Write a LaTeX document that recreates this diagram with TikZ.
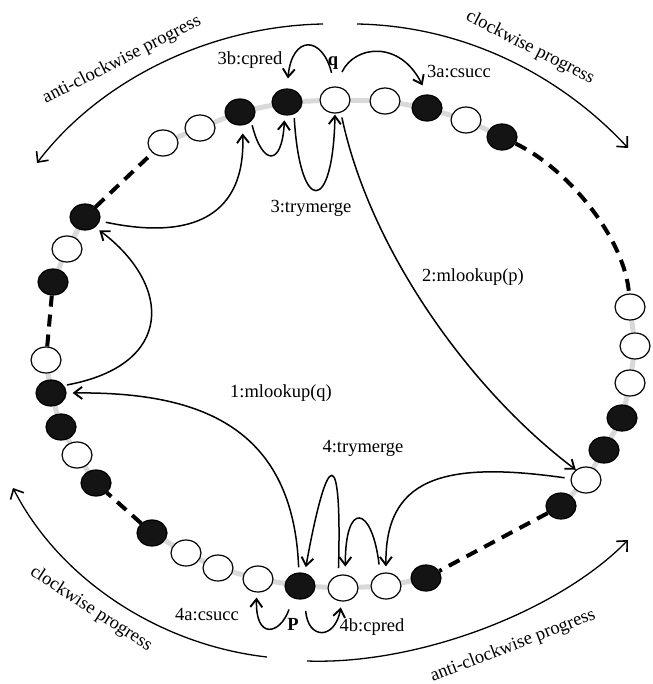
\documentclass[tikz,border=0pt]{standalone}
\usepackage{fontspec}
\setmainfont{Liberation Serif}
\usetikzlibrary{shapes.geometric,arrows.meta,backgrounds}
\begin{document}
\begin{tikzpicture}[x=1pt,y=-1pt,
  wn/.style={ellipse,draw,line width=1.2pt,fill=white,minimum width=30pt,minimum height=26pt,inner sep=0pt},
  bn/.style={wn,fill=black!92},
  ring/.style={line width=5pt,draw=black!15},
  gap/.style={line width=4pt,dash pattern=on 12pt off 8pt},
  arr/.style={line width=1.5pt,-{Straight Barb[length=8pt,width=12pt,line width=1.9pt]}},
  big/.style={line width=1.3pt,-{Straight Barb[length=8pt,width=15pt,line width=1.6pt]}},
  lbl/.style={font=\fontsize{18.5}{22}\selectfont,inner sep=0pt}
]
\useasboundingbox (0,0) rectangle (652,684);
% ring nodes
\node[wn] (t1) at (163,143) {};
\node[wn] (t2) at (200,128) {};
\node[bn] (t3) at (240,112) {};
\node[bn] (t4) at (287,102) {};
\node[wn] (q) at (335,100) {};
\node[wn] (t5) at (385,101) {};
\node[bn] (t6) at (427,108) {};
\node[wn] (t7) at (466,120) {};
\node[bn] (t8) at (502,137) {};
\node[wn] (r1) at (630,307) {};
\node[wn] (r2) at (635,346) {};
\node[wn] (r3) at (630,383) {};
\node[bn] (r4) at (622,418) {};
\node[bn] (r5) at (604,450) {};
\node[wn] (r6) at (586,480) {};
\node[bn] (r7) at (561,506) {};
\node[bn] (b1) at (426,578) {};
\node[wn] (b2) at (386,586) {};
\node[wn] (b3) at (343,588) {};
\node[bn] (p) at (300,586) {};
\node[wn] (b4) at (258,579) {};
\node[wn] (b5) at (218,568) {};
\node[wn] (b6) at (186,553) {};
\node[bn] (b7) at (152,533) {};
\node[bn] (l1) at (96,483) {};
\node[wn] (l2) at (77,455) {};
\node[bn] (l3) at (61,427) {};
\node[bn] (l4) at (51,393) {};
\node[wn] (l5) at (46,360) {};
\node[bn] (l6) at (53,282) {};
\node[wn] (l7) at (67,249) {};
\node[bn] (l8) at (85,217) {};
% grey ring
\begin{scope}[on background layer]
\draw[ring] (t1)--(t2)--(t3)--(t4)--(q)--(t5)--(t6)--(t7)--(t8);
\draw[ring] (r1)--(r2)--(r3)--(r4)--(r5)--(r6)--(r7);
\draw[ring] (b1)--(b2)--(b3)--(p)--(b4)--(b5)--(b6)--(b7);
\draw[ring] (l1)--(l2)--(l3)--(l4)--(l5);
\draw[ring] (l6)--(l7)--(l8);
\end{scope}
% dashed gaps
\draw[gap] (t8) .. controls (570,170) and (625,240) .. (r1);
\draw[gap] (r7) -- (b1);
\draw[gap] (b7) -- (l1);
\draw[gap] (l5) -- (l6);
\draw[gap] (l8) -- (t1);
% arrows
\draw[arr,shorten <=14pt,shorten >=10pt] (q.north) .. controls (322,35) and (292,35) .. (t4.north);
\draw[arr,shorten <=16pt,shorten >=10pt] (q.north) .. controls (355,45) and (400,40) .. (t6.north);
\draw[arr,shorten <=4pt,shorten >=5pt] (t3.-40) .. controls (262,165) and (282,168) .. (t4.-100);
\draw[arr,shorten <=4pt,shorten >=1pt] (t4.-60) .. controls (300,215) and (333,215) .. (q.south);
\draw[arr,shorten <=5pt] (q.-65) .. controls (370,250) and (470,390) .. (r6.135);
\draw[arr,shorten <=6pt,shorten >=8pt] (l8.-15) .. controls (180,238) and (246,225) .. (t3.-80);
\draw[arr,shorten <=3pt,shorten >=5pt] (l4.30) .. controls (175,365) and (172,285) .. (l8.-45);
\draw[arr,shorten <=5pt,shorten >=6pt] (p.95) .. controls (293,420) and (190,392) .. (l4.east);
\draw[arr,shorten <=7pt,shorten >=6pt] (b3.110) .. controls (342,445) and (328,445) .. (p.70);
\draw[arr,shorten <=9pt,shorten >=8pt] (b2.115) .. controls (372,505) and (345,500) .. (b3.80);
\draw[arr,shorten <=6pt,shorten >=6pt] (r6.175) .. controls (440,460) and (385,480) .. (b2.north);
\draw[arr,shorten <=12pt,shorten >=5pt] (p.-120) .. controls (280,635) and (255,640) .. (b4.-95);
\draw[arr,shorten <=12pt,shorten >=6pt] (p.-70) .. controls (308,640) and (335,640) .. (b3.-95);
% progress arcs
\coordinate (tl0) at (323,24); \coordinate (tl1) at (37,163);
\draw[big] (tl0) .. controls (210,26) and (100,80) .. (tl1);
\coordinate (tr0) at (357,24); \coordinate (tr1) at (628,148);
\draw[big] (tr0) .. controls (470,26) and (565,80) .. (tr1);
\coordinate (bl0) at (267,657); \coordinate (bl1) at (13,488);
\draw[big] (bl0) .. controls (160,645) and (60,580) .. (bl1);
\coordinate (br0) at (307,661); \coordinate (br1) at (628,540);
\draw[big] (br0) .. controls (420,665) and (560,610) .. (br1);
% labels
\node[lbl,rotate=27] (ta) at (122,60) {anti-clockwise progress};
\node[lbl,rotate=-27] (tb) at (530,48) {clockwise progress};
\node[lbl,rotate=-33] (tc) at (91,609) {clockwise progress};
\node[lbl,rotate=21] (td) at (513,646) {anti-clockwise progress};
\node[lbl] (l3b) at (250,60) {3b:cpred};
\node[lbl] (lq) at (333,63) {\textbf{q}};
\node[lbl] (l3a) at (459,72) {3a:csucc};
\node[lbl] (l3m) at (311,208) {3:trymerge};
\node[lbl] (l2m) at (473,277) {2:mlookup(p)};
\node[lbl] (l1m) at (281,393) {1:mlookup(q)};
\node[lbl] (l4m) at (363,448) {4:trymerge};
\node[lbl] (l4a) at (207,615) {4a:csucc};
\node[lbl] (lp) at (293,624) {\textbf{P}};
\node[lbl] (l4b) at (372,627) {4b:cpred};
\end{tikzpicture}
\end{document}
